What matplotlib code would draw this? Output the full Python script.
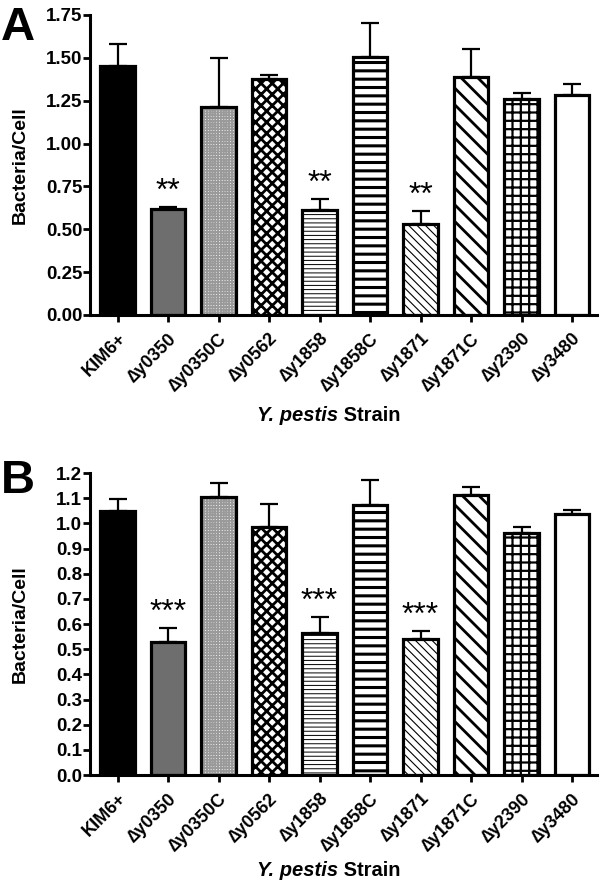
import numpy as np
import matplotlib
matplotlib.use("Agg")
import matplotlib.pyplot as plt

plt.rcParams['font.family'] = ['Liberation Sans', 'DejaVu Sans']
plt.rcParams['font.weight'] = 'bold'

strains = ['KIM6+', '\u2206y0350', '\u2206y0350C', '\u2206y0562', '\u2206y1858',
           '\u2206y1858C', '\u2206y1871', '\u2206y1871C', '\u2206y2390', '\u2206y3480']

# panel A
means_a = [1.455, 0.618, 1.215, 1.377, 0.613, 1.507, 0.531, 1.387, 1.262, 1.285]
err_a = [0.125, 0.012, 0.285, 0.023, 0.062, 0.198, 0.077, 0.163, 0.033, 0.060]
stars_a = ['', '**', '', '', '**', '', '**', '', '', '']

# panel B
means_b = [1.048, 0.530, 1.105, 0.985, 0.566, 1.074, 0.541, 1.111, 0.962, 1.038]
err_b = [0.049, 0.056, 0.055, 0.093, 0.061, 0.097, 0.033, 0.034, 0.022, 0.015]
stars_b = ['', '***', '', '', '***', '', '***', '', '', '']

# (facecolor, hatch, hatch colour, hatch linewidth)
styles = [
    ('black', None, 'black', 1.0),
    ('#6e6e6e', None, '#6e6e6e', 1.0),
    ('white', '++++++', '#9a9a9a', 1.3),
    ('white', 'xxx', 'black', 2.0),
    ('white', '----', 'black', 0.7),
    ('white', '--', 'black', 2.2),
    ('white', '\\\\\\\\', 'black', 0.8),
    ('white', '\\\\', 'black', 2.0),
    ('white', '++', 'black', 1.6),
    ('white', None, 'white', 1.0),
]

fig = plt.figure(figsize=(6, 8.81), dpi=100)
ax_a = fig.add_axes([0.15, 0.6425, 0.845, 0.3405])
ax_b = fig.add_axes([0.15, 0.1203, 0.845, 0.3428])
renderer = fig.canvas.get_renderer()


def draw_panel(ax, means, errs, stars, ymax, step, fmt, xlab_y):
    x = np.arange(len(strains))
    w = 0.69
    for i in range(len(strains)):
        fc, hatch, hc, hlw = styles[i]
        with plt.rc_context({'hatch.linewidth': hlw}):
            b = ax.bar(x[i], means[i], w, color=fc, edgecolor=hc, hatch=hatch,
                       linewidth=0, zorder=2)
        for p in b:
            if hasattr(p, 'set_hatch_linewidth'):
                p.set_hatch_linewidth(hlw)
    ax.bar(x, means, w, fill=False, edgecolor='black', linewidth=2.3, zorder=3)
    ax.errorbar(x, means, yerr=[np.zeros(len(means)), errs], fmt='none',
                ecolor='black', elinewidth=1.6, capsize=6.5, capthick=1.6, zorder=1)
    for i, s in enumerate(stars):
        if s:
            ax.annotate(s, (x[i], means[i] + errs[i]), xytext=(0, 0),
                        textcoords='offset points', ha='center', va='bottom',
                        fontsize=23, fontweight='normal')
    ticks = np.arange(0, ymax + step / 2, step)
    ax.set_xlim(-0.545, 9.495)
    ax.set_ylim(0, ymax)
    ax.set_yticks(ticks)
    ax.set_yticklabels([fmt % v for v in ticks], fontweight='bold', fontsize=13.5)
    ax.set_xticks(x)
    ax.set_xticklabels(strains, rotation=45, ha='right', rotation_mode='anchor',
                       fontweight='bold', fontsize=13)
    ax.spines['top'].set_visible(False)
    ax.spines['right'].set_visible(False)
    ax.spines['left'].set_linewidth(2.2)
    ax.spines['bottom'].set_linewidth(2.2)
    ax.tick_params(axis='both', direction='out', length=5, width=2)
    ax.tick_params(axis='y', pad=0.5)
    ax.tick_params(axis='x', pad=6)
    ax.set_ylabel('Bacteria/Cell', fontsize=14, fontweight='bold', va='center')
    ax.yaxis.set_label_coords(-0.138, 0.5)

    # x label: italic species name followed by bold "Strain"
    t1 = ax.text(0, xlab_y, 'Y. pestis', transform=ax.transAxes, fontsize=14.5,
                 fontweight='bold', fontstyle='italic', ha='left', va='baseline')
    t2 = ax.text(0, xlab_y, ' Strain', transform=ax.transAxes, fontsize=14.5,
                 fontweight='bold', ha='left', va='baseline')
    w1 = t1.get_window_extent(renderer).width
    w2 = t2.get_window_extent(renderer).width
    ax_w = ax.get_window_extent(renderer).width
    start = 0.471 - (w1 + w2) / 2 / ax_w
    t1.set_x(start)
    t2.set_x(start + w1 / ax_w)


draw_panel(ax_a, means_a, err_a, stars_a, 1.75, 0.25, '%.2f', -0.355)
draw_panel(ax_b, means_b, err_b, stars_b, 1.2, 0.1, '%.1f', -0.335)

fig.text(0.002, 0.993, 'A', fontsize=34, fontweight='bold', ha='left', va='top')
fig.text(0.002, 0.479, 'B', fontsize=34, fontweight='bold', ha='left', va='top')

fig.savefig('out.png', dpi=100)
